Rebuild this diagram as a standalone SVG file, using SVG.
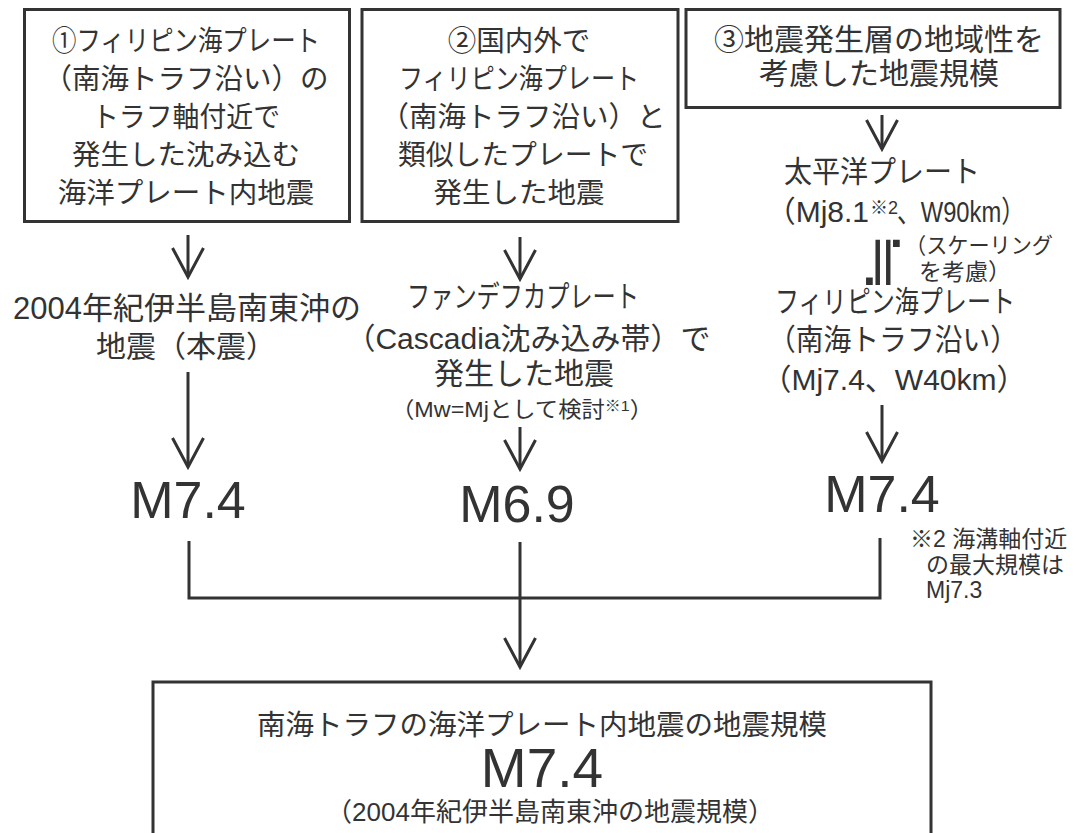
<svg xmlns="http://www.w3.org/2000/svg" width="1077" height="833" viewBox="0 0 1077 833">
<defs>
<style>
.tx{font-family:"Liberation Sans","Noto Sans CJK JP",sans-serif;fill:#333;text-anchor:middle}
.st{text-anchor:start}
.en{text-anchor:end}
.box{fill:#fff;stroke:#333;stroke-width:3}
.cn{fill:none;stroke:#333;stroke-width:3}
.b{font-size:28.5px}
.c{font-size:30px}
.m{font-size:52px}
.s{font-size:22px}
.n{font-size:23px}
</style>
<marker id="ah" viewBox="-32 -18 36 36" refX="0" refY="0" markerWidth="36" markerHeight="36" markerUnits="userSpaceOnUse" orient="auto">
<path d="M-29,-15.5 L0,0 L-29,15.5" fill="none" stroke="#333" stroke-width="3"/>
</marker>
</defs>
<rect width="1077" height="833" fill="#fff"/>

<g id="connectors">
<line class="cn" x1="188" y1="235" x2="188" y2="277" marker-end="url(#ah)"/>
<line class="cn" x1="188" y1="372" x2="188" y2="467" marker-end="url(#ah)"/>
<line class="cn" x1="520" y1="237" x2="520" y2="279" marker-end="url(#ah)"/>
<line class="cn" x1="520" y1="427" x2="520" y2="469" marker-end="url(#ah)"/>
<line class="cn" x1="882" y1="115" x2="882" y2="149" marker-end="url(#ah)"/>
<line class="cn" x1="882" y1="405" x2="882" y2="461" marker-end="url(#ah)"/>
<polyline class="cn" points="189,541 189,598 880,598 880,538"/>
<line class="cn" x1="520" y1="542" x2="520" y2="667" marker-end="url(#ah)"/>
</g>

<g id="box1">
<rect class="box" x="24.5" y="9.5" width="325" height="212"/>
<text class="tx b" x="186" y="51" textLength="268" lengthAdjust="spacingAndGlyphs">①フィリピン海プレート</text>
<text class="tx b" x="186" y="89">（南海トラフ沿い）の</text>
<text class="tx b" x="186" y="127" textLength="188" lengthAdjust="spacingAndGlyphs">トラフ軸付近で</text>
<text class="tx b" x="186" y="165">発生した沈み込む</text>
<text class="tx b" x="186" y="203">海洋プレート内地震</text>
</g>

<g id="box2">
<rect class="box" x="362" y="9.5" width="316" height="212"/>
<text class="tx b" x="519" y="51">②国内外で</text>
<text class="tx b" x="519" y="89" textLength="240" lengthAdjust="spacingAndGlyphs">フィリピン海プレート</text>
<text class="tx b" x="523" y="127">（南海トラフ沿い）と</text>
<text class="tx b" x="523" y="165" textLength="250" lengthAdjust="spacingAndGlyphs">類似したプレートで</text>
<text class="tx b" x="519" y="203">発生した地震</text>
</g>

<g id="box3">
<rect class="box" x="686" y="9.5" width="374" height="98"/>
<text class="tx c" x="879" y="50">③地震発生層の地域性を</text>
<text class="tx c" x="879" y="84">考慮した地震規模</text>
</g>

<g id="kii-quake">
<text class="tx" style="font-size:31px" x="187" y="319">2004年紀伊半島南東沖の</text>
<text class="tx c" x="186" y="357">地震（本震）</text>
</g>

<g id="m-col1">
<text class="tx m" x="188" y="518">M7.4</text>
</g>

<g id="juan-de-fuca">
<text class="tx c" x="523" y="307" textLength="232" lengthAdjust="spacingAndGlyphs">ファンデフカプレート</text>
<text class="tx c" x="528" y="349">（Cascadia沈み込み帯）で</text>
<text class="tx c" x="524" y="384">発生した地震</text>
<text class="tx s" x="522" y="417" textLength="262" lengthAdjust="spacingAndGlyphs">（Mw=Mjとして検討<tspan font-size="15" dy="-6">※1</tspan><tspan dy="6">）</tspan></text>
</g>

<g id="m-col2">
<text class="tx m" x="517" y="522">M6.9</text>
</g>

<g id="pacific">
<text class="tx c" x="882" y="182" textLength="196" lengthAdjust="spacingAndGlyphs">太平洋プレート</text>
<text class="tx c en" x="869" y="222">（Mj8.1</text>
<text class="tx st" style="font-size:18px" x="870" y="214">※2</text>
<text class="tx c st" x="897" y="222" textLength="128" lengthAdjust="spacingAndGlyphs">、W90km）</text>
</g>

<g id="scaling">
<text x="0" y="0" transform="translate(885,262) rotate(90) scale(1.2,0.9)" style="font-family:'DejaVu Sans',sans-serif;font-size:60px;fill:#333;text-anchor:middle;dominant-baseline:central">≒</text>
<text class="tx st s" x="905" y="253" textLength="148" lengthAdjust="spacingAndGlyphs">（スケーリング</text>
<text class="tx st n" x="919" y="280">を考慮）</text>
</g>

<g id="philippine">
<text class="tx c" x="895" y="312" textLength="240" lengthAdjust="spacingAndGlyphs">フィリピン海プレート</text>
<text class="tx c" x="893" y="350" textLength="250" lengthAdjust="spacingAndGlyphs">（南海トラフ沿い）</text>
<text class="tx c" x="894" y="390">（Mj7.4、W40km）</text>
</g>

<g id="m-col3">
<text class="tx m" x="882" y="512">M7.4</text>
</g>

<g id="note2">
<text class="tx st n" x="910" y="547">※2 海溝軸付近</text>
<text class="tx st n" x="926" y="573">の最大規模は</text>
<text class="tx st n" x="926" y="598">Mj7.3</text>
</g>

<g id="result">
<rect class="box" x="153" y="682" width="778" height="200"/>
<text class="tx b" x="542" y="735">南海トラフの海洋プレート内地震の地震規模</text>
<text class="tx" style="font-size:55px" x="542" y="787">M7.4</text>
<text class="tx" style="font-size:26px" x="550" y="821">（2004年紀伊半島南東沖の地震規模）</text>
</g>
</svg>
